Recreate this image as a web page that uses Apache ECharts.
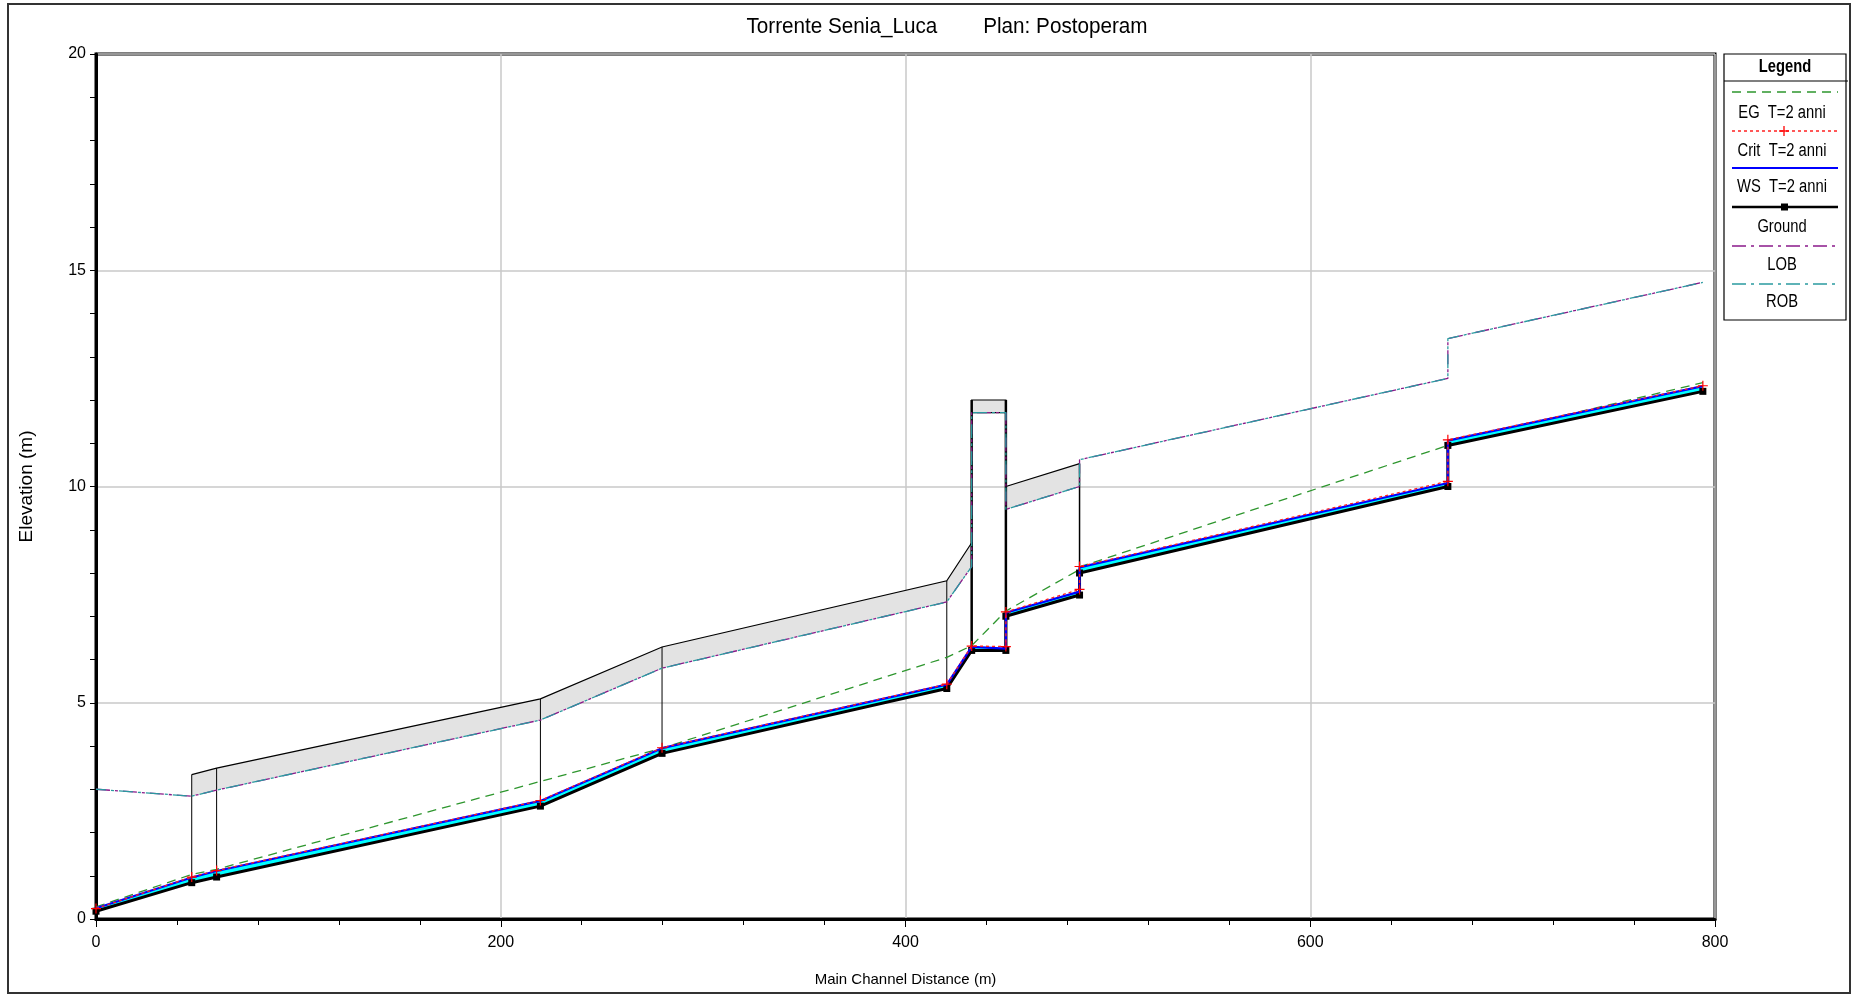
<!DOCTYPE html>
<html>
<head>
<meta charset="utf-8">
<title>Torrente Senia_Luca - Plan: Postoperam</title>
<script src="https://cdn.jsdelivr.net/npm/echarts@6/dist/echarts.min.js"></script>
<style>
  html, body { margin: 0; padding: 0; background: #ffffff; }
  #chart { width: 1852px; height: 995px; }
</style>
</head>
<body>
<div id="chart"></div>
<script>
// Longitudinal profile, T=2 anni. Stations repeated where a step / structure face sits.
const stations = [0, 47.3, 59.6, 219.6, 279.7, 420.4, 432.7, 449.6, 449.6, 486.0, 486.0, 668.0, 668.0, 794.0];
const ground   = [0.18, 0.84, 0.97, 2.61, 3.83, 5.33, 6.21, 6.21, 7.00, 7.49, 8.00, 10.00, 10.95, 12.20];
const wsElev   = [0.25, 0.96, 1.11, 2.73, 3.95, 5.42, 6.29, 6.25, 7.08, 7.57, 8.13, 10.08, 11.06, 12.32];
const critElev = [0.24, 0.97, 1.12, 2.74, 3.96, 5.43, 6.31, 6.30, 7.10, 7.62, 8.15, 10.12, 11.08, 12.33];
const egElev   = [0.28, 1.03, 1.15, 3.18, 3.95, 6.05, 6.32, 7.12, 7.16, 8.08, 8.14, 10.95, 11.01, 12.40];

// Bank stations (left / right overbank limits)
const bankX   = [0, 47.3, 59.6, 219.6, 279.7, 420.4, 432.7, 432.7, 449.6, 449.6, 486.0, 486.0, 668.0, 668.0, 794.0];
const lobElev = [3.00, 2.84, 2.98, 4.60, 5.80, 7.33, 8.15, 11.71, 11.71, 9.47, 10.00, 10.62, 12.50, 13.42, 14.72];
const robElev = [3.00, 2.84, 2.98, 4.60, 5.80, 7.33, 8.15, 11.71, 11.71, 9.47, 10.00, 10.62, 12.50, 13.42, 14.72];

// Walls / bridge deck: [station, top, bottom]
const wallDownstream = [[47.3, 3.34, 2.84], [59.6, 3.49, 2.98], [219.6, 5.09, 4.60], [279.7, 6.29, 5.80], [420.4, 7.82, 7.33], [432.7, 8.70, 8.15]];
const bridgeDeck     = [[432.7, 12.00, 11.71], [449.6, 12.00, 11.71]];
const wallUpstream   = [[449.6, 10.00, 9.47], [486.0, 10.53, 10.00]];

// Section lines drawn from ground to structure top: [station, bottom, top, width]
const sectionLines = [[47.3, 0.84, 3.34, 1], [59.6, 0.97, 3.49, 1], [219.6, 2.61, 5.09, 1], [279.7, 3.83, 6.29, 1],
                      [420.4, 5.33, 7.82, 1], [432.7, 6.21, 12.00, 2.5], [449.6, 6.21, 12.00, 2.5], [486.0, 7.49, 10.53, 1.5]];

const xTicks = [0, 200, 400, 600, 800];
const yTicks = [0, 5, 10, 15, 20];

const legendNames = ['EG  T=2 anni', 'Crit  T=2 anni', 'WS  T=2 anni', 'Ground', 'LOB', 'ROB'];

const SANS = "'Liberation Sans', Arial, Helvetica, sans-serif";
const PLUS = 'path://M4.4,0 L5.6,0 L5.6,4.4 L10,4.4 L10,5.6 L5.6,5.6 L5.6,10 L4.4,10 L4.4,5.6 L0,5.6 L0,4.4 L4.4,4.4 Z';

const pairs = (xs, ys) => xs.map((x, i) => [x, ys[i]]);

function bandSeries(rows, outline, z) {
  return {
    type: 'custom', coordinateSystem: 'cartesian2d', silent: true, z: z,
    data: [[rows[0][0], rows[0][1]]],
    renderItem: function (params, api) {
      const upper = rows.map(r => api.coord([r[0], r[1]]));
      const lower = rows.map(r => api.coord([r[0], r[2]])).reverse();
      const children = [
        { type: 'polygon', shape: { points: upper.concat(lower) }, style: { fill: '#e3e3e3', stroke: outline ? '#000' : null, lineWidth: 1.2 } }
      ];
      if (!outline) {
        children.push({ type: 'polyline', shape: { points: upper }, style: { stroke: '#000', lineWidth: 1.2, fill: null } });
      }
      return { type: 'group', children: children };
    }
  };
}

// condensed text helper (horizontal squeeze around the anchor point)
function narrowText(text, x, y, size, opts) {
  const o = opts || {};
  return {
    type: 'text', z: o.z || 21, x: x, y: y, scaleX: o.scaleX || 0.82, scaleY: 1,
    style: { text: text, fontFamily: SANS, fontSize: size, fontWeight: o.bold ? 'bold' : 'normal', fill: '#000', align: o.align || 'center', verticalAlign: 'middle' }
  };
}

const chart = echarts.init(document.getElementById('chart'), null, { renderer: 'canvas' });

const option = {
  animation: false,
  backgroundColor: '#ffffff',
  grid: { left: 96, right: 137, top: 54, bottom: 76, show: true, borderColor: '#000', borderWidth: 3, backgroundColor: 'transparent' },
  xAxis: {
    type: 'value', min: xTicks[0], max: xTicks[xTicks.length - 1], interval: 200,
    name: 'Main Channel Distance (m)', nameLocation: 'middle', nameGap: 53,
    nameTextStyle: { fontFamily: SANS, fontSize: 15, color: '#000' },
    axisLine: { show: true, onZero: false, lineStyle: { color: '#000', width: 3 } },
    axisTick: { show: true, inside: false, length: 8, lineStyle: { color: '#000', width: 1 } },
    minorTick: { show: true, splitNumber: 5, length: 6, lineStyle: { color: '#000', width: 1 } },
    axisLabel: { fontFamily: SANS, fontSize: 16, color: '#000', margin: 16 },
    splitLine: { show: true, lineStyle: { color: '#c8c8c8', width: 1.5 } }
  },
  yAxis: {
    type: 'value', min: yTicks[0], max: yTicks[yTicks.length - 1], interval: 5,
    name: 'Elevation (m)', nameLocation: 'middle', nameGap: 60, nameRotate: 90,
    nameTextStyle: { fontFamily: SANS, fontSize: 19, color: '#000' },
    axisLine: { show: true, onZero: false, lineStyle: { color: '#000', width: 3 } },
    axisTick: { show: true, inside: false, length: 6, lineStyle: { color: '#000', width: 1 } },
    minorTick: { show: true, splitNumber: 5, length: 6, lineStyle: { color: '#000', width: 1 } },
    axisLabel: { fontFamily: SANS, fontSize: 16, color: '#000', margin: 10 },
    splitLine: { show: true, lineStyle: { color: '#c8c8c8', width: 1.5 } }
  },
  series: [
    bandSeries(wallDownstream, false, 3),
    bandSeries(bridgeDeck, true, 3),
    bandSeries(wallUpstream, false, 3),
    {
      // section lines from ground up to the wall / deck tops
      type: 'custom', coordinateSystem: 'cartesian2d', silent: true, z: 4,
      data: sectionLines.map(s => [s[0], s[1], s[2], s[3]]),
      renderItem: function (params, api) {
        const a = api.coord([api.value(0), api.value(1)]);
        const b = api.coord([api.value(0), api.value(2)]);
        return { type: 'line', shape: { x1: a[0], y1: a[1], x2: b[0], y2: b[1] }, style: { stroke: '#000', lineWidth: api.value(3) } };
      }
    },
    {
      name: 'LOB', type: 'line', z: 5, silent: true, symbol: 'none',
      data: pairs(bankX, lobElev),
      lineStyle: { color: '#8a1a8a', width: 1.3, type: [14, 5, 3, 5], dashOffset: 0 }
    },
    {
      name: 'ROB', type: 'line', z: 5, silent: true, symbol: 'none',
      data: pairs(bankX, robElev),
      lineStyle: { color: '#2a9aa0', width: 1.3, type: [14, 5, 3, 5], dashOffset: 4 }
    },
    {
      name: 'EG  T=2 anni', type: 'line', z: 6, silent: true, symbol: 'none',
      data: pairs(stations, egElev),
      lineStyle: { color: '#2e962e', width: 1.3, type: [9, 6] }
    },
    {
      // water between ground and water surface
      type: 'custom', coordinateSystem: 'cartesian2d', silent: true, z: 7,
      data: [[stations[0], wsElev[0]]],
      renderItem: function (params, api) {
        const top = stations.map((x, i) => api.coord([x, wsElev[i]]));
        const bot = stations.map((x, i) => api.coord([x, ground[i]])).reverse();
        return { type: 'polygon', shape: { points: top.concat(bot) }, style: { fill: '#00ffff', stroke: null } };
      }
    },
    {
      name: 'Ground', type: 'line', z: 8, silent: true,
      data: pairs(stations, ground),
      symbol: 'rect', symbolSize: 7, showAllSymbol: true,
      itemStyle: { color: '#000' },
      lineStyle: { color: '#000', width: 3 }
    },
    {
      name: 'WS  T=2 anni', type: 'line', z: 9, silent: true, symbol: 'none',
      data: pairs(stations, wsElev),
      lineStyle: { color: '#0000ff', width: 2.2 }
    },
    {
      name: 'Crit  T=2 anni', type: 'line', z: 10, silent: true,
      data: pairs(stations, critElev),
      symbol: PLUS, symbolSize: 10, showAllSymbol: true,
      itemStyle: { color: '#ff0000', borderWidth: 0 },
      lineStyle: { color: '#ff2020', width: 1.3, type: [3, 3] }
    }
  ],
  graphic: []
};

// Page frame and title
option.graphic.push(
  { type: 'rect', z: 0, shape: { x: 8, y: 4, width: 1842, height: 989 }, style: { fill: null, stroke: '#333', lineWidth: 2 } },
  narrowText('Torrente Senia_Luca        Plan: Postoperam', 947, 27, 22, { z: 20, scaleX: 0.94 })
);

// Legend panel
const LX = 1724, LW = 122, LCX = 1785;
const legendLineY = [92, 131, 168, 207, 246, 284];
const legendTextY = [113, 151, 187, 227, 265, 302];
const legendStyles = [
  { stroke: '#2e962e', lineWidth: 1.5, lineDash: [9, 6] },
  { stroke: '#ff2020', lineWidth: 1.3, lineDash: [3, 3] },
  { stroke: '#0000ff', lineWidth: 2 },
  { stroke: '#000', lineWidth: 2.5 },
  { stroke: '#8a1a8a', lineWidth: 1.3, lineDash: [14, 5, 3, 5] },
  { stroke: '#2a9aa0', lineWidth: 1.3, lineDash: [14, 5, 3, 5] }
];
option.graphic.push(
  { type: 'rect', z: 20, shape: { x: LX, y: 54, width: LW, height: 266 }, style: { fill: '#fff', stroke: '#000', lineWidth: 1.2 } },
  { type: 'line', z: 21, shape: { x1: LX, y1: 81, x2: LX + LW + 2, y2: 81 }, style: { stroke: '#000', lineWidth: 1.2 } },
  narrowText('Legend', LCX, 67, 18, { bold: true })
);
legendNames.forEach((name, i) => {
  option.graphic.push(
    { type: 'line', z: 21, shape: { x1: 1732, y1: legendLineY[i], x2: 1838, y2: legendLineY[i] }, style: Object.assign({ fill: null }, legendStyles[i]) },
    narrowText(name, LCX - 3, legendTextY[i], 18)
  );
});
option.graphic.push(
  { type: 'rect', z: 22, shape: { x: 1781, y: 203.5, width: 7, height: 7 }, style: { fill: '#000' } },
  { type: 'line', z: 22, shape: { x1: 1784, y1: 126, x2: 1784, y2: 136 }, style: { stroke: '#ff0000', lineWidth: 1.3 } },
  { type: 'line', z: 22, shape: { x1: 1779, y1: 131, x2: 1789, y2: 131 }, style: { stroke: '#ff0000', lineWidth: 1.3 } }
);

chart.setOption(option);
</script>
</body>
</html>
